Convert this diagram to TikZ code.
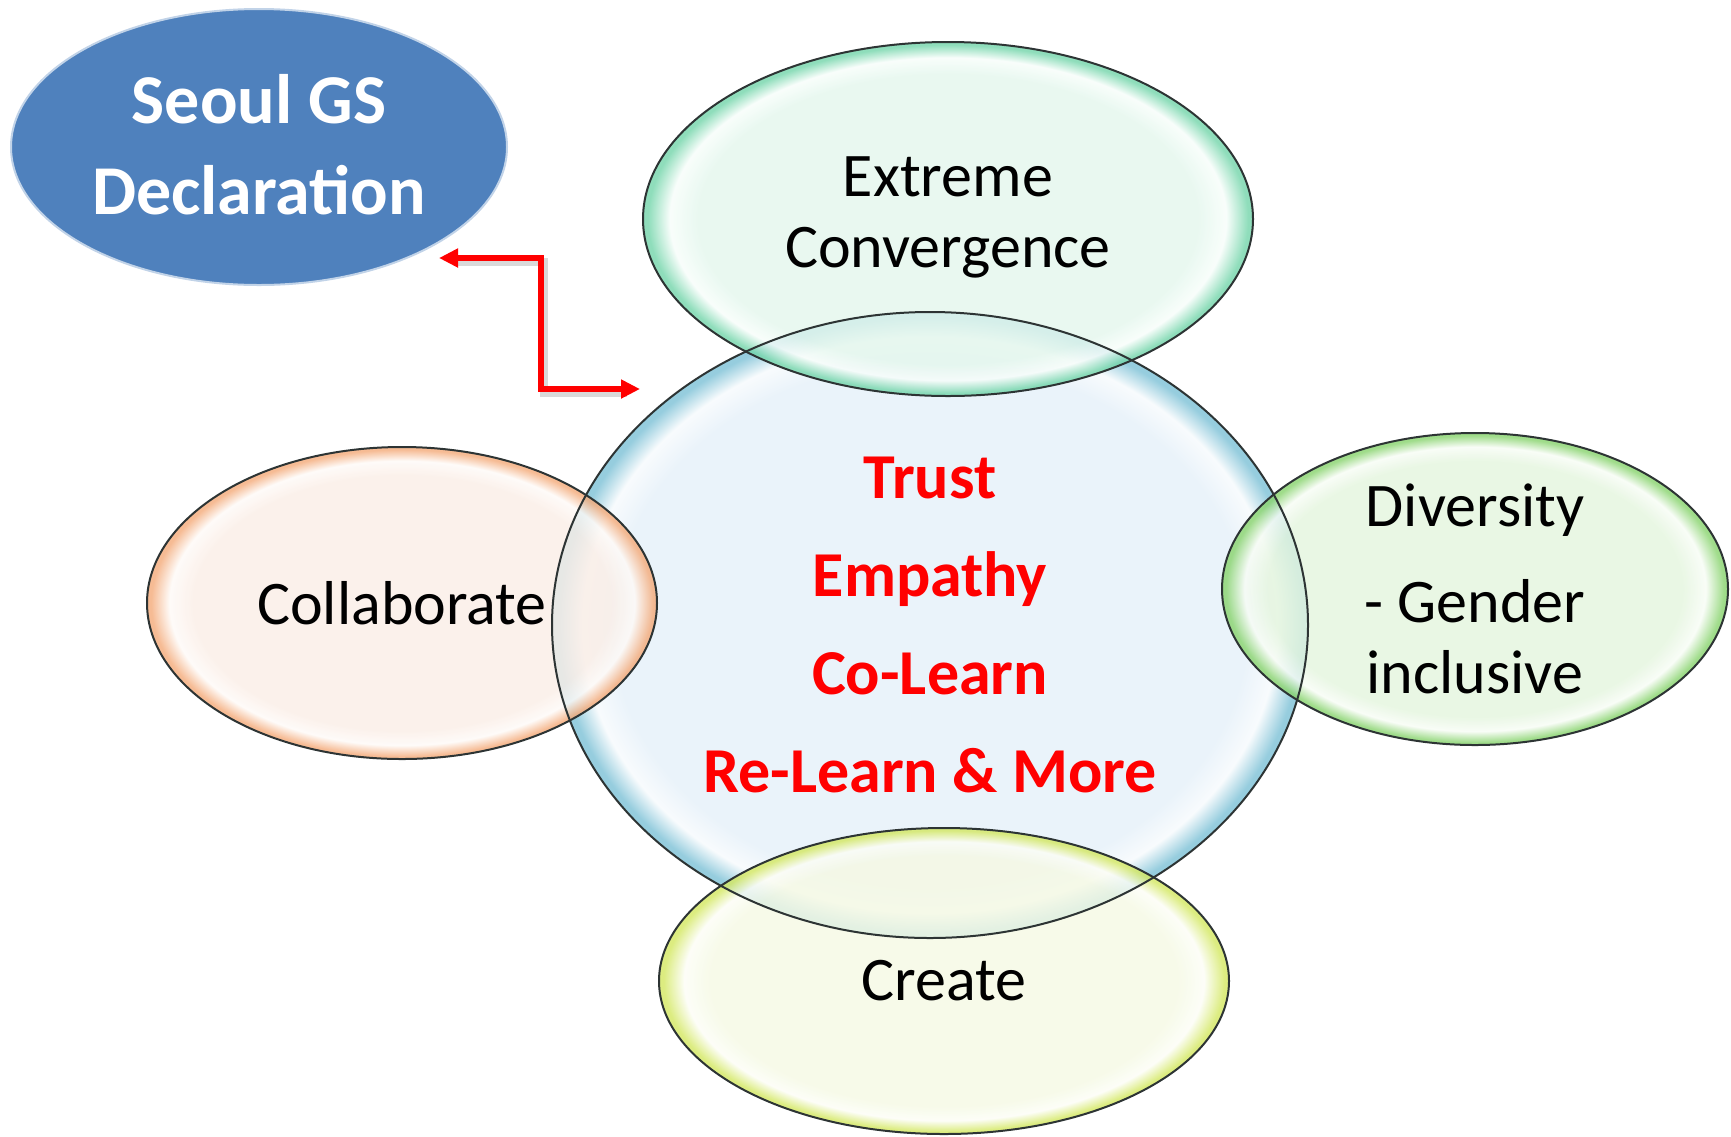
\documentclass[tikz,border=0pt]{standalone}
\usepackage{fontspec}
\setmainfont{Carlito}
\usetikzlibrary{shapes.geometric,arrows.meta}
\definecolor{seoulblue}{RGB}{79,129,189}
\definecolor{cIn}{RGB}{234,243,250}
\definecolor{cMid}{RGB}{248,251,253}
\definecolor{cOut}{RGB}{150,205,222}
\definecolor{eIn}{RGB}{228,247,237}
\definecolor{eMid}{RGB}{247,253,250}
\definecolor{eOut}{RGB}{118,214,172}
\definecolor{oIn}{RGB}{250,238,231}
\definecolor{oMid}{RGB}{254,250,247}
\definecolor{oOut}{RGB}{244,172,124}
\definecolor{dIn}{RGB}{228,245,222}
\definecolor{dMid}{RGB}{247,252,245}
\definecolor{dOut}{RGB}{138,212,112}
\definecolor{yIn}{RGB}{245,249,228}
\definecolor{yMid}{RGB}{252,253,246}
\definecolor{yOut}{RGB}{212,232,100}
\definecolor{outl}{RGB}{45,52,52}
\definecolor{redtxt}{RGB}{255,0,0}
\pgfdeclareradialshading{glassC}{\pgfpoint{0bp}{0bp}}{color(0bp)=(cIn); color(21bp)=(cIn); color(23bp)=(cMid); color(24.6bp)=(cOut); color(25bp)=(cOut); color(50bp)=(cOut)}
\pgfdeclareradialshading{glassE}{\pgfpoint{0bp}{0bp}}{color(0bp)=(eIn); color(20.5bp)=(eIn); color(22.8bp)=(eMid); color(24.6bp)=(eOut); color(25bp)=(eOut); color(50bp)=(eOut)}
\pgfdeclareradialshading{glassO}{\pgfpoint{0bp}{0bp}}{color(0bp)=(oIn); color(20.5bp)=(oIn); color(22.8bp)=(oMid); color(24.6bp)=(oOut); color(25bp)=(oOut); color(50bp)=(oOut)}
\pgfdeclareradialshading{glassD}{\pgfpoint{0bp}{0bp}}{color(0bp)=(dIn); color(20.5bp)=(dIn); color(22.8bp)=(dMid); color(24.6bp)=(dOut); color(25bp)=(dOut); color(50bp)=(dOut)}
\pgfdeclareradialshading{glassY}{\pgfpoint{0bp}{0bp}}{color(0bp)=(yIn); color(20.5bp)=(yIn); color(22.8bp)=(yMid); color(24.6bp)=(yOut); color(25bp)=(yOut); color(50bp)=(yOut)}
\begin{document}
\begin{tikzpicture}[x=1pt,y=-1pt,
  bubble/.style={ellipse, inner sep=0pt, outer sep=0pt},
  sat/.style={bubble, fill opacity=0.82},
  outline/.style={draw=outl, line width=2pt},
  blacktxt/.style={align=center, text=black, font=\fontsize{62}{71}\selectfont},
  redlbl/.style={align=center, text=redtxt, font=\bfseries\fontsize{64}{98}\selectfont},
  linkarrow/.style={draw=redtxt, line width=6pt, {Triangle[length=19pt,width=18pt]}-{Triangle[length=19pt,width=18pt]}},
  arrowshadow/.style={draw=black, opacity=0.15, line width=8pt}]
\useasboundingbox (0,0) rectangle (1731,1136);
% Seoul GS Declaration
\node[bubble, fill=seoulblue, draw=seoulblue!35!white, line width=2pt,
  minimum width=496pt, minimum height=276pt] (seoul) at (259,147) {};
% fills
\node[bubble, shading=glassC, minimum width=756pt, minimum height=626pt] (central) at (930,625) {};
\node[sat, shading=glassE, minimum width=610pt, minimum height=354pt] (extreme) at (948,219) {};
\node[sat, shading=glassO, minimum width=510pt, minimum height=312pt] (collab) at (402,603) {};
\node[sat, shading=glassD, minimum width=506pt, minimum height=312pt] (divers) at (1475,589) {};
\node[sat, shading=glassY, minimum width=570pt, minimum height=306pt] (create) at (944,981) {};
% outlines
\draw[outline] (central.center) ellipse [x radius=378, y radius=313];
\draw[outline] (extreme.center) ellipse [x radius=305, y radius=177];
\draw[outline] (collab.center) ellipse [x radius=255, y radius=156];
\draw[outline] (divers.center) ellipse [x radius=253, y radius=156];
\draw[outline] (create.center) ellipse [x radius=285, y radius=153];
% texts
\node[align=center, text=white, font=\bfseries\fontsize{70}{91}\selectfont] (seoult) at ([yshift=2pt]seoul.center) {Seoul GS\\Declaration};
\node[blacktxt] (extremet) at ([yshift=2pt]extreme.center) {Extreme\\Convergence};
\node[blacktxt] (collabt) at (collab.center) {Collaborate};
\node[blacktxt] (diverst) at (divers.center) {Diversity\\[25pt]- Gender\\inclusive};
\node[blacktxt] (createt) at (create.center) {Create};
\node[redlbl] (centralt) at (central.center) {Trust\\Empathy\\Co-Learn\\Re-Learn \& More};
% arrow
\coordinate (aL) at (439,258);
\coordinate (aB) at (541,323);
\coordinate (aR) at (640,389);
\draw[arrowshadow, transform canvas={xshift=3pt,yshift=-4pt}] ([xshift=16pt]aL) -| (aB) |- ([xshift=-16pt]aR);
\draw[linkarrow] (aL) -| (aB) |- (aR);
\end{tikzpicture}
\end{document}
